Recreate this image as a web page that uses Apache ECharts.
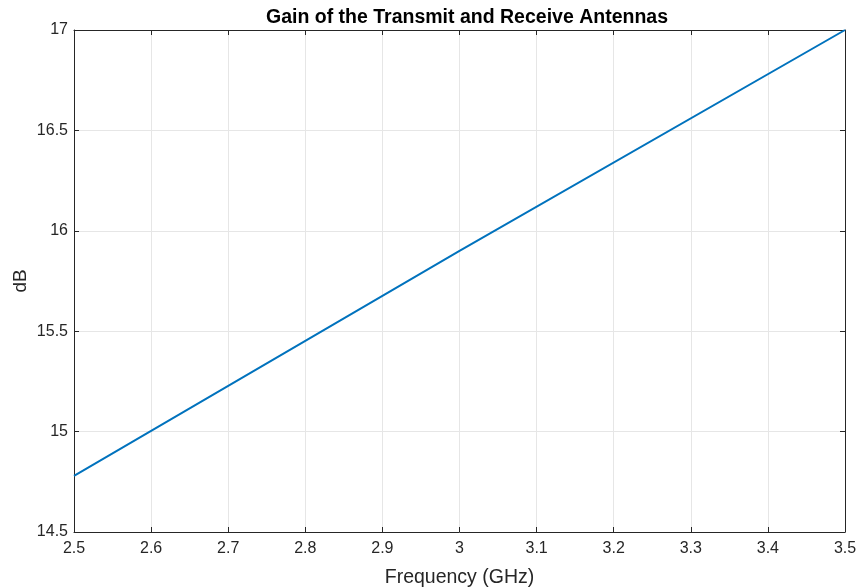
<!DOCTYPE html>
<html><head><meta charset="utf-8">
<script src="https://cdn.jsdelivr.net/npm/echarts@6/dist/echarts.min.js"></script>
<style>html,body{margin:0;padding:0;background:#fff}#c{width:859px;height:587px}</style>
</head><body><div id="c"></div>
<script>
const freqGHz = [2.5, 3.0, 3.5];
const gainDB = [14.78, 15.9, 17.0];
const xTicks = [2.5, 2.6, 2.7, 2.8, 2.9, 3, 3.1, 3.2, 3.3, 3.4, 3.5];
const yTicks = [14.5, 15, 15.5, 16, 16.5, 17];

const chart = echarts.init(document.getElementById('c'));
const F = '"Liberation Sans", Arial, sans-serif';
const axCol = '#262626';
const common = {
  axisLine: {show: true, onZero: false, lineStyle: {color: '#262626', width: 1}},
  axisTick: {show: true, inside: true, length: 5, lineStyle: {color: '#262626'}},
};
chart.setOption({
  animation: false,
  title: {text: 'Gain of the Transmit and Receive Antennas', left: 462, textAlign: 'center', top: 3,
    textStyle: {fontFamily: F, fontWeight: 'bold', fontSize: 19.5, color: '#000'}},
  grid: {left: 74, right: 14, top: 30, bottom: 55, containLabel: false, outerBoundsMode: 'none'},
  xAxis: [{
    type: 'value', min: 2.5, max: 3.5, interval: 0.1, position: 'bottom',
    ...common,
    axisLabel: {fontFamily: F, fontSize: 16, color: axCol, margin: 9, formatter: v => String(+v.toFixed(1))},
    splitLine: {show: true, lineStyle: {color: '#e6e6e6'}},
    name: 'Frequency (GHz)', nameLocation: 'middle', nameGap: 36,
    nameTextStyle: {fontFamily: F, fontSize: 19.5, color: axCol}
  }, {
    type: 'value', min: 2.5, max: 3.5, interval: 0.1, position: 'top',
    ...common, axisLabel: {show: false}, splitLine: {show: false}
  }],
  yAxis: [{
    type: 'value', min: 14.5, max: 17, interval: 0.5, position: 'left',
    ...common,
    axisLabel: {fontFamily: F, fontSize: 16, color: axCol, margin: 6, padding: [3, 0, 0, 0], formatter: v => String(+v.toFixed(1))},
    splitLine: {show: true, lineStyle: {color: '#e6e6e6'}},
    name: 'dB', nameLocation: 'middle', nameGap: 44, nameMoveOverlap: false,
    nameTextStyle: {fontFamily: F, fontSize: 19, color: axCol}
  }, {
    type: 'value', min: 14.5, max: 17, interval: 0.5, position: 'right',
    ...common, axisLabel: {show: false}, splitLine: {show: false}
  }],
  series: [{
    type: 'line', xAxisIndex: 0, yAxisIndex: 0, showSymbol: false,
    lineStyle: {color: '#0072bd', width: 2},
    data: freqGHz.map((f, i) => [f, gainDB[i]])
  }]
});
</script></body></html>
